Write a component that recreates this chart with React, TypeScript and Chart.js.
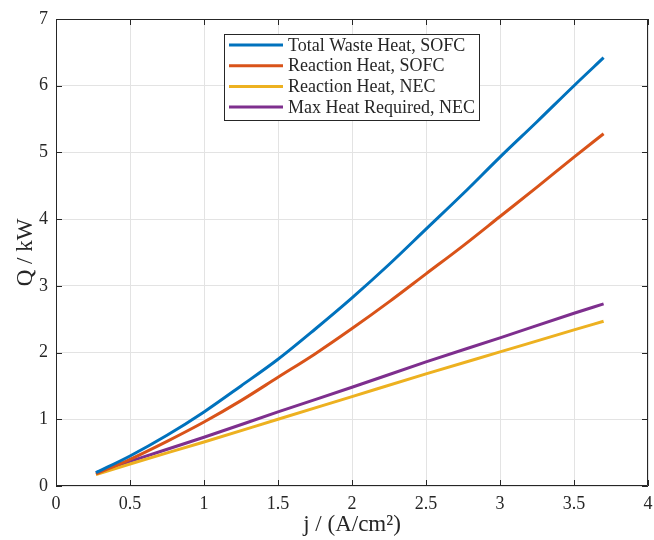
import React, { useEffect, useRef } from "react";
import { Chart, registerables } from "chart.js";

Chart.register(...registerables);

const jBlue = [0.27, 0.5, 0.75, 1, 1.25, 1.5, 1.75, 2, 2.25, 2.5, 2.75, 3, 3.25, 3.5, 3.7];
const totalWasteSOFC = [0.2, 0.45, 0.76, 1.11, 1.5, 1.9, 2.35, 2.82, 3.32, 3.85, 4.38, 4.93, 5.46, 6.0, 6.42];
const reactionSOFC = [0.18, 0.4, 0.67, 0.96, 1.28, 1.63, 1.98, 2.36, 2.76, 3.18, 3.6, 4.04, 4.48, 4.93, 5.28];
const jNEC = [0.27, 0.5, 1, 1.5, 2, 2.5, 3, 3.5, 3.7];
const reactionNEC = [0.17, 0.33, 0.66, 1.0, 1.34, 1.68, 2.01, 2.34, 2.47];
const maxHeatNEC = [0.2, 0.37, 0.73, 1.11, 1.48, 1.86, 2.22, 2.59, 2.73];

const seriesLabels = [
  "Total Waste Heat, SOFC",
  "Reaction Heat, SOFC",
  "Reaction Heat, NEC",
  "Max Heat Required, NEC",
];
const seriesColors = ["#0072BD", "#D95319", "#EDB120", "#7E2F8E"];

const xTitle = "j / (A/cm\u00B2)";
const yTitle = "Q / kW";

const FONT = "'Liberation Serif', 'DejaVu Serif', serif";

const toXY = (xs: number[], ys: number[]) => xs.map((x, i) => ({ x, y: ys[i] }));

const boxPlugin = {
  id: "matlabBox",
  afterDraw(chart: any) {
    const { ctx, chartArea, scales } = chart;
    const { left, right, top, bottom } = chartArea;
    ctx.save();
    ctx.strokeStyle = "#262626";
    ctx.lineWidth = 1;
    ctx.beginPath();
    ctx.rect(left + 0.5, top + 0.5, right - left - 1, bottom - top - 1);
    ctx.stroke();
    const tl = 6;
    ctx.beginPath();
    scales.x.ticks.forEach((t: any) => {
      const px = Math.round(scales.x.getPixelForValue(t.value)) + 0.5;
      ctx.moveTo(px, bottom);
      ctx.lineTo(px, bottom - tl);
      ctx.moveTo(px, top);
      ctx.lineTo(px, top + tl);
    });
    scales.y.ticks.forEach((t: any) => {
      const py = Math.round(scales.y.getPixelForValue(t.value)) + 0.5;
      ctx.moveTo(left, py);
      ctx.lineTo(left + tl, py);
      ctx.moveTo(right, py);
      ctx.lineTo(right - tl, py);
    });
    ctx.stroke();

    // legend
    const lx = 224, ly = 34, lw = 255, lh = 86;
    ctx.fillStyle = "#ffffff";
    ctx.fillRect(lx, ly, lw, lh);
    ctx.strokeStyle = "#262626";
    ctx.lineWidth = 1;
    ctx.strokeRect(lx + 0.5, ly + 0.5, lw, lh);
    ctx.font = "18px " + FONT;
    ctx.textBaseline = "middle";
    ctx.textAlign = "left";
    chart.data.datasets.forEach((ds: any, i: number) => {
      const y = ly + 11 + i * 20.7;
      ctx.strokeStyle = ds.borderColor;
      ctx.lineWidth = 3;
      ctx.beginPath();
      ctx.moveTo(lx + 5, y);
      ctx.lineTo(lx + 59, y);
      ctx.stroke();
      ctx.fillStyle = "#262626";
      ctx.fillText(ds.label, lx + 64, y + 1);
    });
    ctx.restore();
  },
};

export default function App() {
  const ref = useRef<HTMLCanvasElement | null>(null);
  useEffect(() => {
    if (!ref.current) return;
    const data = [
      toXY(jBlue, totalWasteSOFC),
      toXY(jBlue, reactionSOFC),
      toXY(jNEC, reactionNEC),
      toXY(jNEC, maxHeatNEC),
    ];
    const chart = new Chart(ref.current, {
      type: "line",
      data: {
        datasets: data.map((d, i) => ({
          label: seriesLabels[i],
          data: d,
          borderColor: seriesColors[i],
          backgroundColor: seriesColors[i],
          borderWidth: 3,
          pointRadius: 0,
          fill: false,
          cubicInterpolationMode: "monotone" as const,
        })),
      },
      options: {
        responsive: false,
        animation: false,
        layout: { padding: { top: 19, right: 6, left: 0, bottom: 0 } },
        plugins: { legend: { display: false }, tooltip: { enabled: false } },
        scales: {
          x: {
            type: "linear",
            min: 0,
            max: 4,
            ticks: {
              stepSize: 0.5,
              padding: 7,
              color: "#262626",
              font: { family: FONT, size: 18 },
              maxRotation: 0,
              callback: (v: any) => String(Number(v)),
            },
            grid: { color: "#e3e3e3", drawTicks: false },
            border: { display: false },
            title: {
              display: true,
              text: xTitle,
              color: "#262626",
              font: { family: FONT, size: 23 },
              padding: { top: 0, bottom: 1 },
            },
            afterFit: (s: any) => {
              s.height = 54;
              s.paddingLeft = 0;
              s.paddingRight = 0;
            },
          },
          y: {
            type: "linear",
            min: 0,
            max: 7,
            ticks: {
              stepSize: 1,
              padding: 8,
              color: "#262626",
              font: { family: FONT, size: 18 },
              callback: (v: any) => String(Number(v)),
            },
            grid: { color: "#e3e3e3", drawTicks: false },
            border: { display: false },
            title: {
              display: true,
              text: yTitle,
              color: "#262626",
              font: { family: FONT, size: 23 },
              padding: { top: 12, bottom: 0 },
            },
            afterFit: (s: any) => {
              s.width = 56;
              s.paddingTop = 0;
              s.paddingBottom = 0;
            },
          },
        },
      },
      plugins: [boxPlugin],
    });
    return () => chart.destroy();
  }, []);
  return (
    <div style={{ position: "fixed", left: 0, top: 0, width: 654, height: 540, background: "#fff" }}>
      <canvas ref={ref} width={654} height={540} />
    </div>
  );
}
